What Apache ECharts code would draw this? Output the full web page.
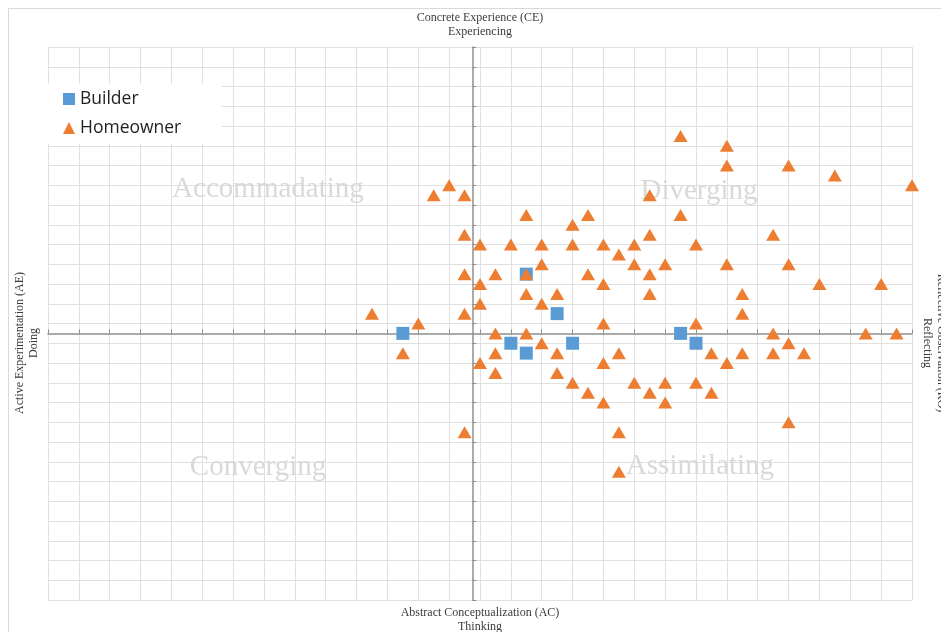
<!DOCTYPE html>
<html>
<head>
<meta charset="utf-8">
<script src="https://cdn.jsdelivr.net/npm/echarts@6/dist/echarts.min.js"></script>
<style>
  html, body { margin: 0; padding: 0; background: #fff; }
  #chart { width: 941px; height: 632px; }
</style>
</head>
<body>
<div id="chart"></div>
<script>
// values are in grid units: x 0..28 left to right, y 0..28 bottom to top
const gridMax = 28;
const crossX = 13.75;  // vertical axis position on x
const crossY = 13.5;   // horizontal axis position on y

const seriesNames = ['Builder', 'Homeowner'];

const builder = [
  [11.5, 13.5], [15.5, 16.5], [15, 13], [15.5, 12.5],
  [16.5, 14.5], [17, 13], [20.5, 13.5], [21, 13]
];

const homeowner = [
  [20.5, 23.5], [22, 23], [22, 22], [24, 22], [25.5, 21.5],
  [13, 21], [28, 21], [12.5, 20.5], [13.5, 20.5], [19.5, 20.5],
  [15.5, 19.5], [17.5, 19.5], [20.5, 19.5], [17, 19],
  [13.5, 18.5], [19.5, 18.5], [23.5, 18.5],
  [14, 18], [15, 18], [16, 18], [17, 18], [18, 18], [19, 18], [21, 18],
  [18.5, 17.5],
  [16, 17], [19, 17], [20, 17], [22, 17], [24, 17],
  [13.5, 16.5], [14.5, 16.5], [15.5, 16.5], [17.5, 16.5], [19.5, 16.5],
  [14, 16], [18, 16], [25, 16], [27, 16],
  [15.5, 15.5], [16.5, 15.5], [19.5, 15.5], [22.5, 15.5],
  [14, 15], [16, 15],
  [10.5, 14.5], [13.5, 14.5], [22.5, 14.5],
  [12, 14], [18, 14], [21, 14],
  [14.5, 13.5], [15.5, 13.5], [23.5, 13.5], [26.5, 13.5], [27.5, 13.5],
  [16, 13], [24, 13],
  [11.5, 12.5], [14.5, 12.5], [16.5, 12.5], [18.5, 12.5], [21.5, 12.5], [22.5, 12.5], [23.5, 12.5], [24.5, 12.5],
  [14, 12], [18, 12], [22, 12],
  [14.5, 11.5], [16.5, 11.5],
  [17, 11], [19, 11], [20, 11], [21, 11],
  [17.5, 10.5], [19.5, 10.5], [21.5, 10.5],
  [18, 10], [20, 10],
  [24, 9],
  [13.5, 8.5], [18.5, 8.5],
  [18.5, 6.5]
];

const quadrantNames = ['Accommadating', 'Diverging', 'Converging', 'Assimilating'];
const topTitle = ['Concrete Experience (CE)', 'Experiencing'];
const bottomTitle = ['Abstract Conceptualization (AC)', 'Thinking'];
const leftTitle = ['Active Experimentation (AE)', 'Doing'];
const rightTitle = ['Reflective Observation (RO)', 'Reflecting'];

const serif = '"Liberation Serif", "DejaVu Serif", serif';
const axisGray = '#8f8f8f';
const gridGray = '#e0e0e0';

function titleText(lines, x, y, rotation) {
  return {
    type: 'text', x: x, y: y, rotation: rotation || 0, z: 5,
    style: {
      text: lines.join('\n'), font: '12px ' + serif, fill: '#3c3c3c',
      align: 'center', verticalAlign: 'middle', lineHeight: 14
    }
  };
}

function quadrantText(name, x, y) {
  return {
    type: 'text', x: x, y: y, z: 1,
    style: {
      text: name, font: '29px ' + serif, fill: '#d9d9d9',
      align: 'center', verticalAlign: 'middle'
    }
  };
}

const chart = echarts.init(document.getElementById('chart'));

chart.setOption({
  animation: false,
  backgroundColor: '#fff',
  grid: { left: 48, right: 29, top: 47, bottom: 32, containLabel: false },
  legend: {
    orient: 'vertical', left: 48, top: 84,
    padding: [5, 40, 6, 15],
    backgroundColor: '#fff',
    itemGap: 9, itemWidth: 12, itemHeight: 12,
    textStyle: { fontFamily: '"Open Sans", "Noto Sans", sans-serif', fontSize: 17.5, color: '#1f1f1f', lineHeight: 20 },
    data: [
      { name: seriesNames[0], icon: 'rect' },
      { name: seriesNames[1], icon: 'triangle' }
    ]
  },
  xAxis: [
    {
      type: 'value', min: 0, max: gridMax, interval: 1,
      axisLine: { show: true, onZero: true, onZeroAxisIndex: 1, lineStyle: { color: axisGray, width: 1.5 } },
      axisTick: { show: true, inside: true, length: 4, lineStyle: { color: axisGray } },
      axisLabel: { show: false },
      splitLine: { show: true, lineStyle: { color: gridGray, width: 1 } }
    },
    { type: 'value', show: false, min: -crossX, max: gridMax - crossX }
  ],
  yAxis: [
    {
      type: 'value', min: 0, max: gridMax, interval: 1,
      axisLine: { show: true, onZero: true, onZeroAxisIndex: 1, lineStyle: { color: axisGray, width: 1.5 } },
      axisTick: { show: true, inside: true, length: 4, lineStyle: { color: axisGray } },
      axisLabel: { show: false },
      splitLine: { show: true, lineStyle: { color: gridGray, width: 1 } }
    },
    { type: 'value', show: false, min: -crossY, max: gridMax - crossY }
  ],
  graphic: [
    { type: 'rect', z: 0, shape: { x: 8.5, y: 8.5, width: 1000, height: 1000 },
      style: { fill: 'none', stroke: '#d9d9d9', lineWidth: 1 } },
    quadrantText(quadrantNames[0], 268, 189),
    quadrantText(quadrantNames[1], 699, 191),
    quadrantText(quadrantNames[2], 258, 467),
    quadrantText(quadrantNames[3], 700, 466),
    titleText(topTitle, 480, 25),
    titleText(bottomTitle, 480, 620),
    titleText(leftTitle, 27, 343, Math.PI / 2),
    titleText(rightTitle, 934, 343, -Math.PI / 2)
  ],
  series: [
    {
      name: seriesNames[0], type: 'scatter', clip: false,
      symbol: 'rect', symbolSize: 13,
      itemStyle: { color: '#5B9BD5', opacity: 1 },
      data: builder
    },
    {
      name: seriesNames[1], type: 'scatter', clip: false,
      symbol: 'triangle', symbolSize: [14, 12],
      itemStyle: { color: '#ED7D31', opacity: 1 },
      data: homeowner
    }
  ]
});
</script>
</body>
</html>
